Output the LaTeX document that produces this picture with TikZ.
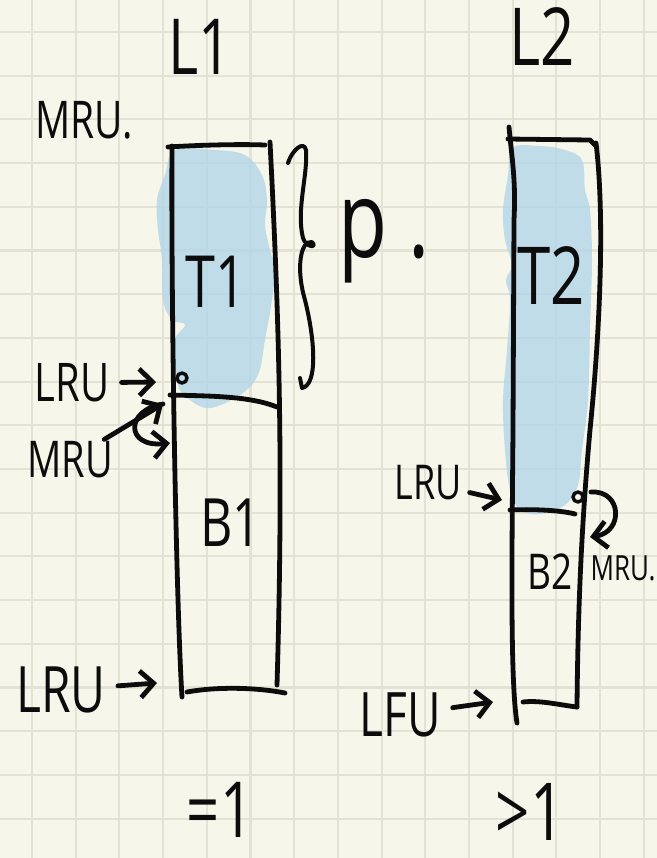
\documentclass[tikz,border=0pt]{standalone}
\usepackage{fontspec}
\setmainfont[FakeStretch=0.75]{Open Sans}
\usetikzlibrary{arrows.meta}
\definecolor{paper}{RGB}{247,246,234}
\definecolor{gridline}{RGB}{226,226,213}
\definecolor{ink}{RGB}{12,12,12}
\definecolor{marker}{RGB}{178,214,232}
\tikzset{
  pen/.style={draw=ink, line width=3.6pt, line cap=round, line join=round},
  arr/.style={pen, -{Straight Barb[length=10pt,width=20pt]}},
  hand/.style={inner sep=0pt, text=ink},
  hl/.style={fill=marker, fill opacity=0.8}
}
\newcommand{\fs}[1]{\fontsize{#1}{#1}\selectfont}
\begin{document}
\begin{tikzpicture}[x=0.75pt,y=-0.75pt]
    \useasboundingbox (0,0) rectangle (657,858);
    \fill[paper] (0,0) rectangle (657,858);
    \foreach \k in {0,...,14}
        \draw[gridline, line width=1.6pt] ({32+43.7*\k},0) -- ({32+43.7*\k},858);
    \foreach \k in {0,...,18}
        \draw[gridline, line width=1.6pt] (0,{32+43.7*\k}) -- (657,{32+43.7*\k});

    % marker over T1 and T2
    \fill[hl] plot[smooth cycle, tension=0.6] coordinates {(175,150) (215,150) (245,155) (262,175) (267,200) (265,225) (270,250) (275,270) (272,300) (265,340) (258,375) (240,395) (210,408) (190,400) (178,385) (172,345) (185,325) (172,320) (163,300) (162,260) (158,230) (157,200) (165,175)};
    \fill[hl] plot[smooth cycle, tension=0.6] coordinates {(512,148) (540,146) (565,150) (582,160) (585,190) (590,210) (592,260) (590,330) (588,400) (582,450) (578,485) (565,505) (540,514) (520,510) (510,490) (505,450) (503,400) (507,350) (510,300) (506,280) (512,265) (505,240) (503,210) (508,175)};

    % L1 column
    \draw[pen] (172,146) .. controls (171,300) and (176,600) .. (182,697);
    \draw[pen] (168,147) .. controls (200,145) and (240,144) .. (265,145);
    \draw[pen] (270,142) .. controls (278,300) and (284,450) .. (277,685);
    \draw[pen] (187,692) .. controls (220,686) and (260,688) .. (285,693);
    \draw[pen] (170,395) .. controls (210,396) and (250,396) .. (277,407);
    \draw[pen, line width=2.6pt] (182,378) circle (5);

    % L2 column
    \draw[pen] (509,127) .. controls (512,160) and (516,180) .. (514,220) -- (513,430)
        .. controls (512,550) and (510,680) .. (517,723);
    \draw[pen] (508,139) -- (590,140) -- (596,146);
    \draw[pen] (596,143) .. controls (603,200) and (603,300) .. (590,430)
        .. controls (582,520) and (578,600) .. (577,707);
    \draw[pen] (523,702) .. controls (540,700) and (560,705) .. (577,707);
    \draw[pen] (510,510) .. controls (530,509) and (560,510) .. (575,514);
    \draw[pen, line width=2.6pt] (578,497) circle (5);

    % brace for p
    \draw[pen, line width=3pt] (288,163) .. controls (292,150) and (304,140) .. (306,150)
        .. controls (308,175) and (296,210) .. (303,238)
        .. controls (306,248) and (318,248) .. (312,242)
        .. controls (300,240) and (296,270) .. (305,300)
        .. controls (315,340) and (318,385) .. (302,388) -- (300,378);

    \node[hand, font=\fs{58}] (l1) at (200,47) {L1};
    \node[hand, font=\fs{60}] (l2) at (542,37) {L2};
    \node[hand, font=\fs{39}] (mrutop) at (84,120) {MRU.};
    \node[hand, font=\fs{54}] (t1) at (216,282) {T1};
    \node[hand, font=\fs{50}] (b1) at (231,523) {B1};
    \node[hand, font=\fs{80}, anchor=west] (p) at (338,241) {p .};
    \node[hand, font=\fs{40}] (lru1) at (72,383) {LRU};
    \node[hand, font=\fs{38}] (mru1) at (70,460) {MRU};
    \node[hand, font=\fs{48}] (lru2) at (61,690) {LRU};
    \node[hand, font=\fs{58}] (eq) at (220,810) {=1};
    \node[hand, font=\fs{60}] (t2) at (551,276) {T2};
    \node[hand, font=\fs{36}] (lru3) at (428,483) {LRU};
    \node[hand, font=\fs{37}] (b2) at (550,572) {B2};
    \node[hand, font=\fs{26}] (mru2) at (623,568) {MRU.};
    \node[hand, font=\fs{46}] (lfu) at (400,715) {LFU};
    \node[hand, font=\fs{60}] (gt) at (530,812) {>1};

    \coordinate (lru1tip) at (156,382);
    \coordinate (t1end) at (163,404);
    \coordinate (b1top) at (170,443);
    \coordinate (lru2tip) at (157,683);
    \coordinate (lru3tip) at (502,500);
    \coordinate (t2end) at (591,492);
    \coordinate (b2top) at (590,537);
    \coordinate (lfutip) at (493,702);

    \draw[arr, shorten <=9pt] (lru1) -- (lru1tip);
    \draw[arr, shorten <=3pt] (mru1) -- (t1end);
    \draw[arr] (t1end) .. controls (125,410) and (125,448) .. (b1top);
    \draw[arr, shorten <=9pt] (lru2) -- (lru2tip);
    \draw[arr, shorten <=6pt] (lru3) -- (lru3tip);
    \draw[arr] (t2end) .. controls (622,490) and (624,532) .. (b2top);
    \draw[arr, shorten <=9pt] (lfu) -- (lfutip);
\end{tikzpicture}
\end{document}
